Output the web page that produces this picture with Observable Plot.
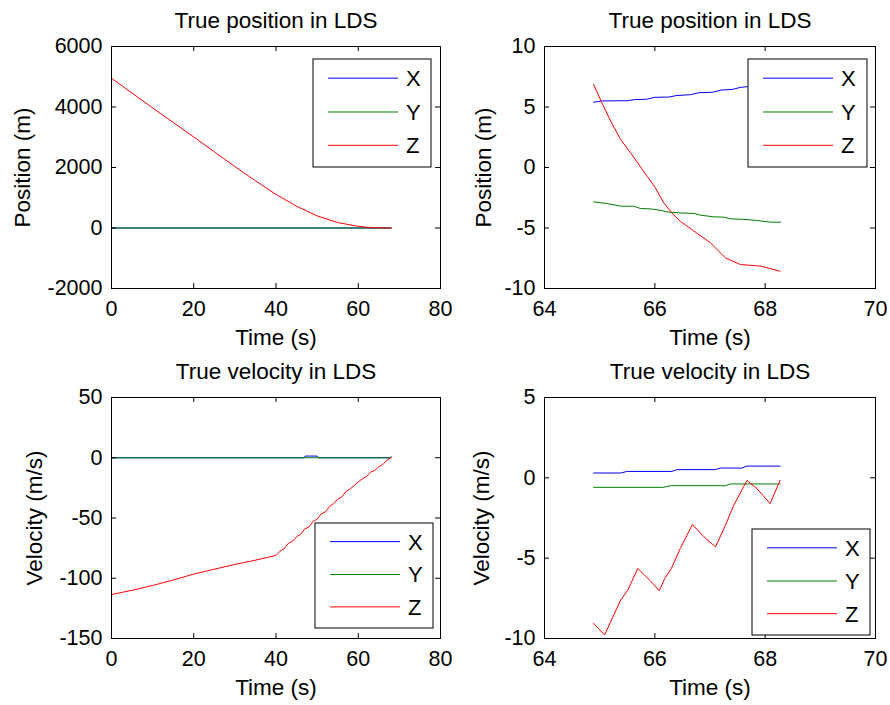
<!DOCTYPE html>
<html>
<head>
<meta charset="utf-8">
<script src="https://cdn.jsdelivr.net/npm/d3@7"></script>
<script src="https://cdn.jsdelivr.net/npm/@observablehq/plot@0.6"></script>
<style>
  body { margin: 0; background: #fff; }
  #fig { position: relative; width: 890px; height: 705px; background: #fff; font-family: "Liberation Sans", Arial, Helvetica, sans-serif; }
  .panel { position: absolute; }
  .panel svg { overflow: visible; }
  .legend { position: absolute; }
</style>
</head>
<body>
<div id="fig"></div>
<script>
// ---------- DATA ----------
const seriesNames = ["X", "Y", "Z"];
const seriesColors = ["#0000ff", "#008000", "#ff0000"];

// Panel 1: True position in LDS (full time)
const posFullTimeXY = [0, 68];
const posFullX = [0, 0];
const posFullY = [0, 0];
const posFullTimeZ = [0, 5, 10, 15, 20, 25, 30, 35, 40, 45, 50, 55, 60, 63, 66, 68];
const posFullZ = [4950, 4460, 3970, 3490, 3010, 2520, 2030, 1560, 1110, 720, 400, 180, 55, 15, 3, 0];

// Panel 2: True position in LDS (zoom)
const posZoomTimeX = [64.89, 65.05, 65.50, 65.65, 65.85, 66.00, 66.25, 66.40, 66.65, 66.80, 67.05, 67.20, 67.40, 67.55, 67.75, 68.27];
const posZoomX = [5.40, 5.50, 5.52, 5.62, 5.64, 5.80, 5.82, 5.95, 6.02, 6.18, 6.22, 6.40, 6.45, 6.62, 6.72, 6.85];
const posZoomTimeY = [64.89, 65.14, 65.38, 65.62, 65.74, 65.92, 66.10, 66.22, 66.46, 66.71, 66.83, 67.07, 67.25, 67.37, 67.67, 67.85, 68.10, 68.28];
const posZoomY = [-2.84, -2.98, -3.20, -3.20, -3.39, -3.42, -3.53, -3.67, -3.75, -3.80, -3.94, -4.08, -4.10, -4.24, -4.30, -4.38, -4.52, -4.52];
const posZoomTimeZ = [64.89, 65.04, 65.20, 65.38, 65.56, 65.86, 66.01, 66.16, 66.31, 66.46, 66.71, 67.01, 67.28, 67.55, 67.92, 68.27];
const posZoomZ = [6.86, 5.35, 3.83, 2.31, 1.21, -0.72, -1.68, -2.92, -3.75, -4.44, -5.26, -6.23, -7.47, -8.02, -8.15, -8.57];

// Panel 3: True velocity in LDS (full time)
const velFullTimeX = [0, 46.8, 47.1, 50.0, 50.3, 67.7, 68.0];
const velFullX = [0, 0, 1.4, 1.4, 0, 0, 0.7];
const velFullTimeY = [0, 68];
const velFullY = [0, 0];
const velFullTimeZ = [0, 5, 10, 15, 20, 25, 30, 35, 40, 41, 42, 43, 44, 45, 46, 47, 48, 49, 50, 51, 52, 53, 54, 55, 56, 57, 58, 59, 60, 61, 62, 63, 64, 65, 66, 67, 68];
const velFullZ = [-113.5, -110, -106, -101.5, -96.5, -92.5, -88.5, -85, -81, -77.5, -75.5, -71, -69.5, -65.5, -63.5, -59, -57.5, -53, -51, -46.5, -45, -40.5, -38, -34.5, -32.5, -28, -26, -23, -20, -17.5, -15.5, -12, -10.5, -7.5, -5.5, -2, 0.3];

// Panel 4: True velocity in LDS (zoom)
const velZoomTimeX = [64.89, 65.38, 65.50, 66.31, 66.40, 67.10, 67.19, 67.58, 67.67, 68.27];
const velZoomX = [0.30, 0.30, 0.40, 0.40, 0.51, 0.51, 0.61, 0.61, 0.73, 0.73];
const velZoomTimeY = [64.89, 66.16, 66.28, 67.28, 67.37, 68.27];
const velZoomY = [-0.59, -0.59, -0.49, -0.49, -0.38, -0.38];
const velZoomTimeZ = [64.89, 65.09, 65.38, 65.51, 65.69, 65.92, 66.08, 66.18, 66.30, 66.46, 66.68, 66.89, 67.10, 67.28, 67.43, 67.67, 67.85, 68.09, 68.27];
const velZoomZ = [-9.06, -9.78, -7.61, -6.99, -5.64, -6.41, -7.03, -6.26, -5.64, -4.40, -2.91, -3.67, -4.30, -2.95, -1.71, -0.16, -0.67, -1.60, -0.16];

// Axes
const fullTimeTicks = [0, 20, 40, 60, 80];
const zoomTimeTicks = [64, 66, 68, 70];
const posFullTicks = [-2000, 0, 2000, 4000, 6000];
const posZoomTicks = [-10, -5, 0, 5, 10];
const velFullTicks = [-150, -100, -50, 0, 50];
const velZoomTicks = [-10, -5, 0, 5];

const titles = ["True position in LDS", "True position in LDS", "True velocity in LDS", "True velocity in LDS"];
const yLabels = ["Position (m)", "Position (m)", "Velocity (m/s)", "Velocity (m/s)"];
const xLabel = "Time (s)";

// ---------- BUILD ----------
const rows = (ts, vs) => ts.map((t, i) => ({t, v: vs[i]}));
const fig = document.getElementById("fig");
const FONT = "'Liberation Sans', Arial, Helvetica, sans-serif";

function panel(cfg) {
  const {left, top, width, height, mt, mr, mb, ml, xDomain, xTicks, yDomain, yTicks, series, title, yLabel, yLabelDx, legend} = cfg;
  const innerW = width - ml - mr;
  const innerH = height - mt - mb;
  const marks = [];
  // tick labels
  marks.push(Plot.axisX({ticks: xTicks, tickSize: 0, tickPadding: 12, tickFormat: d => String(d), label: null, fontSize: 21.5, fill: "#000"}));
  marks.push(Plot.axisY({ticks: yTicks, tickSize: 0, tickPadding: 9, tickFormat: d => String(d), label: null, fontSize: 21.5, fill: "#000"}));
  // data lines
  series.forEach((s, i) => {
    marks.push(Plot.line(rows(s[0], s[1]), {x: "t", y: "v", stroke: seriesColors[i], strokeWidth: 1}));
  });
  // inward ticks on all four sides
  marks.push(Plot.tickX(xTicks, {x: d => d, insetTop: innerH - 5, stroke: "#000"}));
  marks.push(Plot.tickX(xTicks, {x: d => d, insetBottom: innerH - 5, stroke: "#000"}));
  marks.push(Plot.tickY(yTicks, {y: d => d, insetRight: innerW - 5, stroke: "#000"}));
  marks.push(Plot.tickY(yTicks, {y: d => d, insetLeft: innerW - 5, stroke: "#000"}));
  marks.push(Plot.frame({stroke: "#000", strokeWidth: 1}));
  // title and labels
  marks.push(Plot.text([title], {text: d => d, frameAnchor: "top", dy: -19, lineAnchor: "bottom", fontSize: 22.5, fill: "#000"}));
  marks.push(Plot.text([xLabel], {text: d => d, frameAnchor: "bottom", dy: 56, lineAnchor: "bottom", fontSize: 22.5, fill: "#000"}));
  marks.push(Plot.text([yLabel], {text: d => d, frameAnchor: "left", dx: yLabelDx, rotate: -90, lineAnchor: "middle", textAnchor: "middle", fontSize: 22.5, fill: "#000"}));

  const svg = Plot.plot({
    width, height,
    marginTop: mt, marginRight: mr, marginBottom: mb, marginLeft: ml,
    x: {domain: xDomain, nice: false},
    y: {domain: yDomain, nice: false},
    style: {fontFamily: FONT, fontSize: "21px", background: "transparent", color: "#000", overflow: "visible"},
    marks
  });
  const div = document.createElement("div");
  div.className = "panel";
  div.style.left = left + "px";
  div.style.top = top + "px";
  div.appendChild(svg);
  fig.appendChild(div);

  // legend box (HTML overlay)
  const lg = d3.select(fig).append("svg")
    .attr("class", "legend")
    .attr("width", legend.w + 2).attr("height", legend.h + 2)
    .style("left", (legend.x - 1) + "px").style("top", (legend.y - 1) + "px");
  lg.append("rect").attr("x", 1).attr("y", 1).attr("width", legend.w).attr("height", legend.h)
    .attr("fill", "#fff").attr("stroke", "#000").attr("stroke-width", 1);
  const rowsY = [19, 52.5, 85.5].map(r => r * legend.h / 107);
  seriesNames.forEach((n, i) => {
    lg.append("line").attr("x1", 16).attr("x2", 86).attr("y1", rowsY[i] + 1).attr("y2", rowsY[i] + 1)
      .attr("stroke", seriesColors[i]).attr("stroke-width", 1);
    lg.append("text").attr("x", 94).attr("y", rowsY[i] + 1).attr("dy", "0.36em")
      .attr("font-family", FONT).attr("font-size", 22).attr("fill", "#000").text(n);
  });
}

panel({left: 0, top: 0, width: 445, height: 352, mt: 46, mr: 5, mb: 64, ml: 111,
  xDomain: [0, 80], xTicks: fullTimeTicks, yDomain: [-2000, 6000], yTicks: posFullTicks,
  series: [[posFullTimeXY, posFullX], [posFullTimeXY, posFullY], [posFullTimeZ, posFullZ]],
  title: titles[0], yLabel: yLabels[0], yLabelDx: -89,
  legend: {x: 313, y: 59, w: 118, h: 108}});

panel({left: 445, top: 0, width: 445, height: 352, mt: 46, mr: 15, mb: 64, ml: 99,
  xDomain: [64, 70], xTicks: zoomTimeTicks, yDomain: [-10, 10], yTicks: posZoomTicks,
  series: [[posZoomTimeX, posZoomX], [posZoomTimeY, posZoomY], [posZoomTimeZ, posZoomZ]],
  title: titles[1], yLabel: yLabels[1], yLabelDx: -61,
  legend: {x: 748, y: 59, w: 119, h: 108}});

panel({left: 0, top: 352, width: 445, height: 353, mt: 45, mr: 5, mb: 67, ml: 111,
  xDomain: [0, 80], xTicks: fullTimeTicks, yDomain: [-150, 50], yTicks: velFullTicks,
  series: [[velFullTimeX, velFullX], [velFullTimeY, velFullY], [velFullTimeZ, velFullZ]],
  title: titles[2], yLabel: yLabels[2], yLabelDx: -77,
  legend: {x: 315, y: 523, w: 118, h: 105}});

panel({left: 445, top: 352, width: 445, height: 353, mt: 45, mr: 15, mb: 67, ml: 99,
  xDomain: [64, 70], xTicks: zoomTimeTicks, yDomain: [-10, 5], yTicks: velZoomTicks,
  series: [[velZoomTimeX, velZoomX], [velZoomTimeY, velZoomY], [velZoomTimeZ, velZoomZ]],
  title: titles[3], yLabel: yLabels[3], yLabelDx: -63,
  legend: {x: 752, y: 529, w: 118, h: 106}});
</script>
</body>
</html>
